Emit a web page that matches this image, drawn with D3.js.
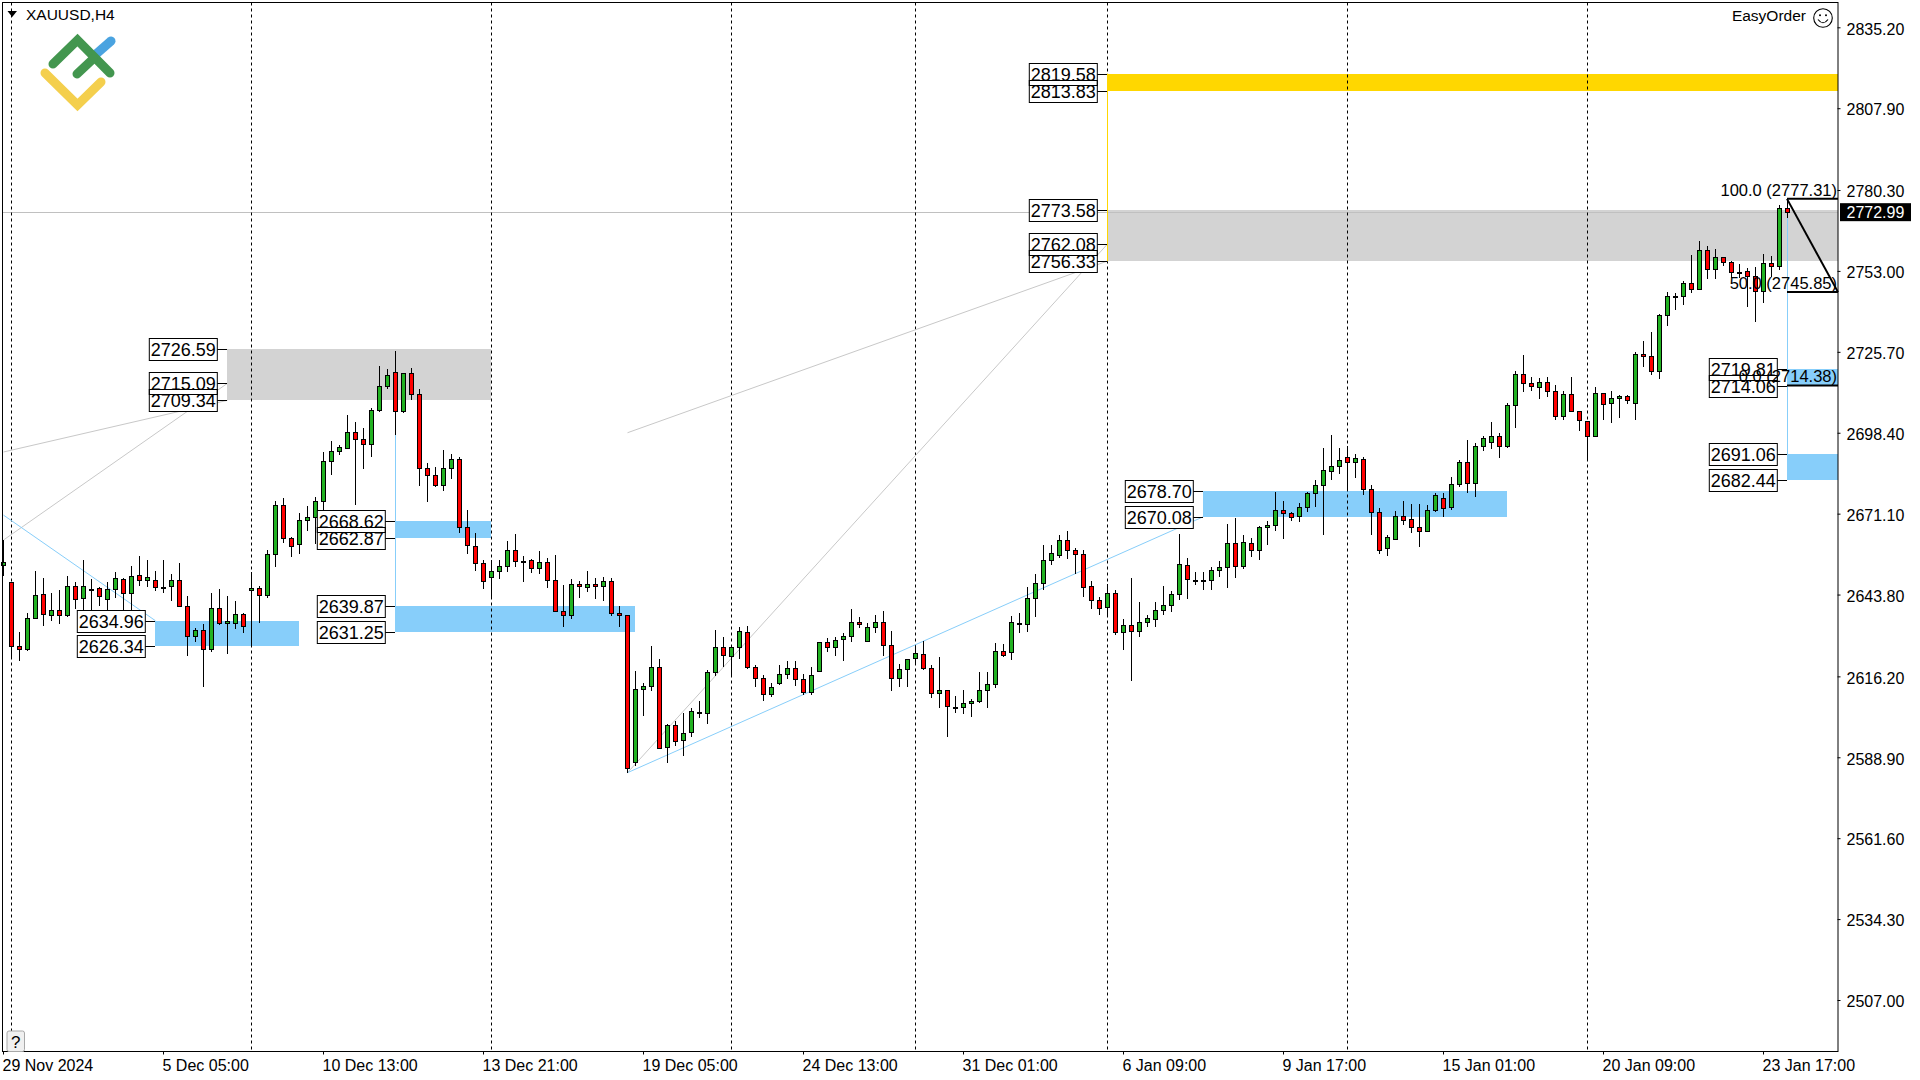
<!DOCTYPE html>
<html>
<head>
<meta charset="utf-8">
<title>XAUUSD,H4</title>
<script src="https://cdn.jsdelivr.net/npm/d3@7/dist/d3.min.js"></script>
<style>
  html, body { margin: 0; padding: 0; background: #fff; overflow: hidden; }
  svg { display: block; }
  text { font-family: "Liberation Sans", Arial, sans-serif; fill: #000; }
</style>
</head>
<body>
<div id="chart"></div>
<script>
// H4 bars, left to right
var opens = [
  2653.7,2647.9,2626.5,2625.5,2636.0,2643.9,2636.8,2638.5,2636.8,2646.6,
  2642.5,2645.7,2645.9,2642.4,2645.6,2648.9,2644.2,2650.3,2648.6,2648.6,
  2646.5,2646.6,2648.6,2639.8,2629.7,2631.7,2625.3,2639.1,2634.1,2634.1,
  2637.1,2645.2,2645.9,2643.5,2657.4,2673.9,2662.8,2660.7,2668.8,2669.9,
  2675.3,2688.8,2692.1,2693.1,2698.5,2696.2,2694.5,2706.0,2714.1,2718.8,
  2705.6,2718.4,2711.4,2686.4,2684.0,2680.6,2686.4,2689.4,2666.5,2660.1,
  2654.3,2649.6,2651.6,2653.3,2658.7,2655.0,2655.3,2652.6,2654.7,2648.6,
  2638.1,2636.8,2647.2,2646.2,2647.2,2646.6,2648.3,2637.5,2636.8,2587.2,
  2611.8,2612.8,2619.2,2592.2,2599.7,2594.6,2597.3,2604.3,2604.0,2617.6,
  2626.0,2623.0,2626.0,2631.0,2619.2,2615.5,2610.1,2613.8,2616.9,2618.9,
  2615.2,2610.8,2617.9,2627.7,2626.0,2628.7,2629.7,2634.4,2628.0,2632.7,
  2634.4,2626.7,2615.5,2618.6,2622.3,2623.6,2618.9,2610.5,2611.5,2606.0,
  2605.7,2607.1,2607.8,2611.5,2613.5,2624.6,2624.3,2634.3,2633.7,2642.5,
  2647.6,2655.3,2657.0,2662.1,2659.0,2657.4,2646.6,2641.8,2639.5,2644.2,
  2631.0,2633.4,2631.4,2634.4,2635.4,2638.5,2640.2,2643.9,2653.7,2648.7,
  2648.6,2648.6,2652.0,2653.0,2661.1,2653.3,2661.1,2658.7,2666.5,2667.2,
  2672.5,2671.2,2670.2,2673.2,2677.9,2680.6,2685.4,2687.1,2690.1,2688.4,
  2689.4,2679.3,2671.5,2659.4,2662.4,2670.2,2669.2,2666.5,2665.1,2672.2,
  2676.3,2673.2,2681.0,2688.4,2681.3,2693.8,2695.2,2697.2,2693.8,2707.6,
  2718.1,2715.1,2713.7,2715.4,2712.4,2703.9,2711.4,2705.6,2702.2,2697.2,
  2711.7,2708.3,2710.0,2710.7,2708.3,2724.8,2724.2,2719.4,2738.0,2744.4,
  2744.4,2748.8,2746.8,2759.9,2753.5,2757.6,2755.9,2752.8,2752.9,2751.2,
  2746.1,2755.6,2754.5,2774.1
];
var highs = [
  2662.2,2647.9,2631.0,2637.5,2651.6,2649.4,2644.3,2645.3,2649.9,2647.9,
  2655.3,2648.9,2646.2,2647.9,2651.3,2649.3,2653.3,2656.8,2655.3,2651.6,
  2655.3,2650.6,2654.3,2643.2,2632.4,2633.7,2644.2,2645.6,2643.2,2641.5,
  2637.5,2651.3,2646.6,2658.7,2675.3,2676.3,2663.1,2671.2,2673.6,2676.6,
  2691.8,2695.5,2694.1,2704.4,2701.9,2699.9,2706.6,2720.9,2719.8,2726.0,
  2718.4,2720.1,2713.0,2688.1,2686.7,2692.5,2691.1,2690.1,2672.5,2664.5,
  2655.3,2655.3,2655.3,2661.8,2664.1,2656.7,2655.7,2658.4,2656.0,2657.0,
  2646.9,2648.9,2648.3,2651.6,2649.3,2649.6,2649.3,2639.8,2636.8,2617.9,
  2613.8,2626.3,2621.9,2600.0,2601.0,2603.7,2605.4,2607.8,2618.2,2631.8,
  2629.4,2626.0,2632.7,2633.1,2619.9,2616.5,2613.8,2619.9,2621.3,2621.3,
  2616.9,2619.2,2627.7,2629.0,2629.4,2630.7,2638.8,2636.1,2634.1,2636.8,
  2638.1,2631.4,2620.3,2621.9,2626.3,2628.1,2619.9,2622.6,2611.5,2609.5,
  2611.5,2608.4,2617.6,2617.6,2627.3,2627.0,2636.4,2637.5,2646.2,2650.9,
  2660.4,2660.4,2663.8,2665.1,2659.4,2659.0,2648.3,2642.9,2647.2,2645.2,
  2635.4,2649.3,2641.2,2636.8,2641.2,2646.6,2644.9,2664.1,2656.0,2651.3,
  2651.3,2653.0,2655.0,2667.5,2669.5,2663.8,2662.8,2666.8,2668.5,2678.3,
  2675.3,2671.5,2674.6,2678.3,2682.3,2693.1,2697.5,2693.1,2693.8,2691.1,
  2690.1,2680.6,2672.9,2663.8,2671.9,2675.3,2674.2,2674.2,2673.9,2677.9,
  2678.0,2683.4,2689.1,2695.8,2694.8,2697.2,2701.9,2698.2,2708.3,2719.1,
  2724.5,2717.1,2716.8,2717.1,2714.4,2712.4,2717.1,2705.9,2702.2,2713.7,
  2711.7,2712.4,2711.0,2711.0,2725.5,2729.2,2732.3,2738.3,2745.8,2745.4,
  2749.5,2758.3,2763.0,2761.3,2760.3,2757.6,2756.2,2755.2,2753.9,2754.2,
  2758.6,2757.9,2775.1,2777.3
];
var lows = [
  2650.2,2622.2,2621.5,2624.9,2635.7,2633.3,2635.0,2634.0,2636.1,2639.0,
  2637.5,2637.5,2640.0,2637.5,2642.7,2636.3,2637.5,2646.8,2646.5,2645.1,
  2644.4,2641.7,2639.5,2623.2,2627.9,2612.5,2624.5,2633.4,2623.9,2632.3,
  2630.9,2626.4,2634.3,2642.7,2653.0,2661.3,2656.6,2657.6,2665.4,2661.0,
  2670.1,2684.3,2690.8,2693.1,2673.9,2686.3,2690.3,2705.3,2713.0,2697.5,
  2704.9,2709.6,2680.5,2674.9,2680.0,2678.6,2682.9,2664.5,2657.4,2651.9,
  2645.8,2642.4,2649.2,2651.5,2653.2,2648.1,2651.2,2650.8,2646.0,2637.8,
  2633.0,2635.7,2642.7,2644.8,2642.4,2641.7,2636.7,2633.0,2583.7,2586.1,
  2602.9,2611.4,2591.9,2586.8,2592.8,2589.4,2595.6,2602.0,2600.0,2616.2,
  2619.2,2616.2,2621.9,2618.8,2612.7,2608.0,2609.1,2613.3,2615.4,2613.0,
  2610.0,2609.8,2617.9,2624.5,2623.2,2621.5,2627.7,2632.4,2628.0,2630.9,
  2623.2,2611.4,2612.7,2612.5,2620.0,2618.2,2609.0,2605.4,2595.8,2603.7,
  2603.6,2602.4,2607.1,2605.4,2612.2,2622.6,2621.6,2630.7,2631.0,2636.1,
  2645.2,2653.7,2656.0,2655.7,2650.9,2643.1,2638.8,2636.8,2636.1,2630.0,
  2625.0,2614.5,2629.4,2632.7,2632.7,2636.8,2637.8,2641.8,2642.2,2646.9,
  2645.4,2645.2,2649.6,2645.9,2649.3,2652.3,2656.4,2655.3,2660.4,2665.1,
  2662.4,2668.5,2668.2,2671.5,2673.2,2663.8,2682.3,2684.4,2678.9,2683.0,
  2677.3,2663.8,2657.4,2656.7,2662.4,2667.2,2664.5,2659.7,2665.1,2671.5,
  2670.1,2672.2,2680.0,2677.9,2676.6,2692.4,2692.8,2689.8,2693.1,2699.9,
  2712.3,2712.4,2709.7,2710.3,2702.6,2702.6,2705.3,2698.9,2689.1,2697.2,
  2702.6,2701.6,2703.3,2708.0,2702.6,2720.7,2717.8,2716.4,2734.3,2739.7,
  2741.4,2745.4,2746.4,2750.2,2750.2,2754.5,2750.5,2750.5,2740.7,2735.6,
  2742.1,2750.8,2753.2,2770.7
];
var closes = [
  2654.9,2626.5,2625.5,2635.8,2643.5,2637.1,2638.5,2636.8,2646.6,2642.4,
  2646.6,2645.8,2643.2,2645.6,2649.3,2644.2,2649.9,2648.6,2649.6,2646.2,
  2646.4,2648.6,2639.8,2629.7,2631.7,2625.3,2639.1,2634.1,2634.8,2637.1,
  2633.1,2645.9,2643.5,2657.4,2673.9,2662.8,2660.1,2668.8,2669.9,2675.3,
  2688.8,2692.1,2693.5,2698.5,2696.2,2694.5,2706.0,2714.1,2717.8,2705.6,
  2718.4,2711.4,2686.4,2684.0,2680.6,2686.4,2689.4,2666.5,2660.4,2654.3,
  2648.3,2651.6,2653.3,2658.7,2655.0,2654.9,2652.6,2654.7,2648.6,2638.1,
  2636.8,2647.2,2646.6,2647.2,2646.6,2648.3,2637.5,2636.8,2585.2,2611.8,
  2612.8,2619.2,2592.1,2599.7,2594.3,2597.0,2604.4,2604.2,2617.6,2626.0,
  2623.3,2626.0,2631.4,2619.2,2615.5,2610.1,2612.5,2616.9,2618.9,2615.2,
  2610.8,2616.5,2627.7,2626.0,2628.3,2629.7,2634.4,2633.7,2632.7,2634.4,
  2626.7,2615.5,2618.6,2621.9,2624.0,2618.9,2610.5,2611.5,2606.1,2605.9,
  2607.1,2607.8,2611.5,2613.5,2624.6,2623.3,2634.4,2634.2,2642.5,2647.6,
  2655.3,2657.7,2662.1,2659.0,2657.4,2646.2,2641.8,2639.1,2644.2,2631.0,
  2633.4,2631.4,2634.4,2635.8,2638.5,2640.2,2643.9,2654.0,2648.9,2648.6,
  2648.5,2652.0,2653.0,2661.1,2653.3,2661.4,2658.7,2666.5,2667.2,2672.5,
  2671.2,2669.9,2673.2,2677.9,2680.6,2685.7,2687.1,2689.1,2688.4,2689.8,
  2679.3,2671.5,2659.0,2663.1,2670.2,2668.8,2666.5,2665.1,2672.2,2677.3,
  2672.9,2681.0,2688.4,2681.3,2693.8,2696.5,2697.2,2693.8,2707.6,2718.1,
  2715.1,2714.1,2715.4,2712.4,2703.9,2711.4,2705.6,2702.6,2697.2,2711.7,
  2708.0,2710.0,2710.7,2709.3,2724.8,2724.2,2719.4,2738.0,2744.4,2744.3,
  2748.8,2746.8,2759.9,2753.5,2757.6,2755.9,2752.5,2752.7,2751.2,2746.1,
  2755.6,2754.5,2774.1,2773.0
];

var priceTicks = [2835.20,2807.90,2780.30,2753.00,2725.70,2698.40,2671.10,2643.80,2616.20,2588.90,2561.60,2534.30,2507.00];
var timeTickBars = [0,20,40,60,80,100,120,140,160,180,200,220];
var timeTickLabels = ['29 Nov 2024','5 Dec 05:00','10 Dec 13:00','13 Dec 21:00','19 Dec 05:00','24 Dec 13:00',
  '31 Dec 01:00','6 Jan 09:00','9 Jan 17:00','15 Jan 01:00','20 Jan 09:00','23 Jan 17:00'];
var separatorBars = [1,31,61,91,114,138,168,198];

// zones: from bar, to bar (null = runs to the right edge), top, bottom, kind
var zoneFrom = [19,49,49,150,223,223,28,138,138];
var zoneTo = [37,61,79,188,null,null,61,null,null];
var zoneTop = [2634.96,2668.62,2639.87,2678.70,2719.81,2691.06,2726.59,2773.58,2819.58];
var zoneBottom = [2626.34,2662.87,2631.25,2670.08,2714.06,2682.44,2709.34,2756.33,2813.83];
var zoneKind = ['blue','blue','blue','blue','blue','blue','gray','gray','gold'];

var labelBars = [19,19,49,49,49,49,150,150,223,223,223,223,28,28,28,138,138,138,138,138];
var labelValues = [2634.96,2626.34,2668.62,2662.87,2639.87,2631.25,2678.70,2670.08,2719.81,2714.06,2691.06,2682.44,
  2726.59,2715.09,2709.34,2819.58,2813.83,2773.58,2762.08,2756.33];

// trend lines: bar, price, bar, price, kind
var lineBar1 = [0,0,78,78,0,78,49,223,138];
var linePrice1 = [2691.9,2662.2,2698.4,2583.7,2670.6,2583.7,2709.34,2773.0,2819.58];
var lineBar2 = [28,28,138,138,19,150,49,223,138];
var linePrice2 = [2709.34,2715.09,2756.33,2762.08,2634.96,2670.08,2631.25,2682.44,2756.33];
var lineKind = ['gray','gray','gray','gray','blue','blue','blue','blue','gold'];

var fibLevels = ['100.0','50.0','0.0'];
var fibPrices = [2777.31,2745.85,2714.38];
var lastPrice = 2772.99;

var bars = opens.map(function(o, i) {
  return { i: i, o: o, h: highs[i], l: lows[i], c: closes[i] };
});

var plotLeft = 2.5, plotTop = 2.5, plotRight = 1838, plotBottom = 1051.5;
var colors = { blue: '#87cefa', gray: '#d3d3d3', gold: '#ffd700' };
var lineColors = { blue: '#87cefa', gray: '#c8c8c8', gold: '#ffd700' };

var svg = d3.select('#chart').append('svg').attr('width', 1920).attr('height', 1080);

var x = d3.scaleLinear().domain([0, 223]).range([3, 1787]);
var y = d3.scaleLinear().domain([2507, 2835.2]).range([1000, 27.3]);

function crisp(v) { return Math.round(v) + 0.5; }
function endX(b) { return b == null ? plotRight : x(b); }

// zones
zoneTop.forEach(function(t, i) {
  svg.append('rect')
    .attr('x', x(zoneFrom[i]))
    .attr('y', Math.round(y(t)))
    .attr('width', endX(zoneTo[i]) - x(zoneFrom[i]))
    .attr('height', Math.round(y(zoneBottom[i])) - Math.round(y(t)))
    .attr('fill', colors[zoneKind[i]]);
});

// last price line sits on the zones
svg.append('line')
  .attr('x1', plotLeft).attr('x2', plotRight)
  .attr('y1', crisp(y(lastPrice))).attr('y2', crisp(y(lastPrice)))
  .attr('stroke', '#c0c0c0');

// period separators
separatorBars.forEach(function(b) {
  svg.append('line')
    .attr('x1', x(b) + 0.5).attr('x2', x(b) + 0.5)
    .attr('y1', plotTop).attr('y2', plotBottom)
    .attr('stroke', '#000')
    .attr('stroke-dasharray', '3 3');
});

// trend lines
lineBar1.forEach(function(b, i) {
  svg.append('line')
    .attr('x1', x(b) + 0.5).attr('y1', y(linePrice1[i]))
    .attr('x2', x(lineBar2[i]) + 0.5).attr('y2', y(linePrice2[i]))
    .attr('stroke', lineColors[lineKind[i]])
    .attr('stroke-width', 1);
});

// candles
var candle = svg.append('g').selectAll('g').data(bars).enter().append('g');
candle.append('line')
  .attr('x1', function(d) { return x(d.i) + 0.5; })
  .attr('x2', function(d) { return x(d.i) + 0.5; })
  .attr('y1', function(d) { return Math.round(y(d.h)); })
  .attr('y2', function(d) { return Math.round(y(d.l)); })
  .attr('stroke', '#000');
candle.append('rect')
  .attr('x', function(d) { return x(d.i) - 1.5; })
  .attr('y', function(d) { return crisp(y(Math.max(d.o, d.c))); })
  .attr('width', 4)
  .attr('height', function(d) {
    return Math.max(1, crisp(y(Math.min(d.o, d.c))) - crisp(y(Math.max(d.o, d.c))));
  })
  .attr('fill', function(d) { return d.c >= d.o ? '#22b222' : '#ff0000'; })
  .attr('stroke', '#000');

// price labels: white boxes first, then outlines and numbers so both edges show when they overlap
var boxW = 68, boxH = 22;
function boxX(i) { return x(labelBars[i]) - 77.7; }
labelValues.forEach(function(v, i) {
  svg.append('rect')
    .attr('x', boxX(i)).attr('y', crisp(y(v) - boxH / 2))
    .attr('width', boxW).attr('height', boxH)
    .attr('fill', '#fff');
});
labelValues.forEach(function(v, i) {
  svg.append('line')
    .attr('x1', boxX(i) + boxW).attr('x2', x(labelBars[i]))
    .attr('y1', crisp(y(v))).attr('y2', crisp(y(v)))
    .attr('stroke', '#000');
  svg.append('rect')
    .attr('x', boxX(i)).attr('y', crisp(y(v) - boxH / 2))
    .attr('width', boxW).attr('height', boxH)
    .attr('fill', 'none').attr('stroke', '#000');
  svg.append('text')
    .attr('x', boxX(i) + boxW / 2).attr('y', y(v) + 7)
    .attr('text-anchor', 'middle')
    .style('font-size', '18px')
    .text(d3.format('.2f')(v));
});

// fibo levels, over the labels
fibPrices.forEach(function(p, i) {
  svg.append('line')
    .attr('x1', x(223)).attr('x2', plotRight)
    .attr('y1', y(p)).attr('y2', y(p))
    .attr('stroke', '#000').attr('stroke-width', 2);
  svg.append('text')
    .attr('x', plotRight - 1).attr('y', y(p) - 3)
    .attr('text-anchor', 'end')
    .style('font-size', '16.5px')
    .text(fibLevels[i] + ' (' + d3.format('.2f')(p) + ')');
});
svg.append('line')
  .attr('x1', x(223)).attr('y1', y(fibPrices[0]))
  .attr('x2', plotRight).attr('y2', y(fibPrices[1]))
  .attr('stroke', '#000').attr('stroke-width', 2);

// frame and axes
svg.append('rect')
  .attr('x', plotLeft).attr('y', plotTop)
  .attr('width', plotRight - plotLeft).attr('height', plotBottom - plotTop)
  .attr('fill', 'none').attr('stroke', '#000');

var yAxis = d3.axisRight(y).tickValues(priceTicks).tickFormat(d3.format('.2f')).tickSize(3).tickPadding(6);
var yAxisG = svg.append('g').attr('transform', 'translate(' + (plotRight - 0.5) + ',0)').call(yAxis);
yAxisG.select('.domain').remove();
yAxisG.selectAll('text').style('font-size', '16px').attr('fill', '#000').attr('font-family', null);
yAxisG.selectAll('text').attr('dy', '0.42em');

var xAxis = d3.axisBottom(x).tickValues(timeTickBars)
  .tickFormat(function(d, i) { return timeTickLabels[i]; }).tickSize(3).tickPadding(5);
var xAxisG = svg.append('g').attr('transform', 'translate(0,' + plotBottom + ')').call(xAxis);
xAxisG.select('.domain').remove();
xAxisG.selectAll('text').style('font-size', '16px').attr('text-anchor', 'start').attr('x', -1).attr('font-family', null);

// last price tag
svg.append('rect')
  .attr('x', 1840).attr('y', y(lastPrice) - 8.5)
  .attr('width', 71).attr('height', 18)
  .attr('fill', '#000');
svg.append('text')
  .attr('x', 1846.5).attr('y', y(lastPrice) + 6)
  .style('font-size', '16px')
  .style('fill', '#fff')
  .text(d3.format('.2f')(lastPrice));

// title, little triangle
svg.append('path').attr('d', 'M7.5 11H17L12.2 17Z').attr('fill', '#000');
svg.append('text').attr('x', 26).attr('y', 20).style('font-size', '15.5px').text('XAUUSD,H4');

// EasyOrder + smiley
svg.append('text').attr('x', 1806).attr('y', 21).attr('text-anchor', 'end').style('font-size', '15.5px').text('EasyOrder');
var smile = svg.append('g').attr('transform', 'translate(1823,18)').attr('fill', 'none').attr('stroke', '#000');
smile.append('circle').attr('r', 9.3).attr('stroke-width', 1.1);
smile.append('path').attr('d', 'M-5 1.5Q0 8 5 1.5').attr('stroke-width', 1.2);
smile.append('circle').attr('cx', -3).attr('cy', -2.8).attr('r', 1).attr('fill', '#000').attr('stroke', 'none');
smile.append('circle').attr('cx', 3).attr('cy', -2.8).attr('r', 1).attr('fill', '#000').attr('stroke', 'none');

// logo
var logo = svg.append('g').attr('fill', 'none').attr('stroke-linecap', 'round').attr('stroke-linejoin', 'miter').attr('stroke-width', 9);
logo.append('path').attr('d', 'M95 55L111 41').attr('stroke', '#4aa3e0');
logo.append('path').attr('d', 'M53 64L77.5 40L110 73').attr('stroke', '#43964f');
logo.append('path').attr('d', 'M77 74L93 59').attr('stroke', '#43964f');
logo.append('path').attr('d', 'M45 73L77.5 105L101 82').attr('stroke', '#f4cf4d');

// "?" button
svg.append('rect')
  .attr('x', 7).attr('y', 1031).attr('width', 17.5).attr('height', 20.5).attr('rx', 2)
  .attr('fill', '#f0f0f0').attr('stroke', '#a8a8a8');
svg.append('text').attr('x', 15.8).attr('y', 1048).attr('text-anchor', 'middle').style('font-size', '17px').text('?');
</script>
</body>
</html>
